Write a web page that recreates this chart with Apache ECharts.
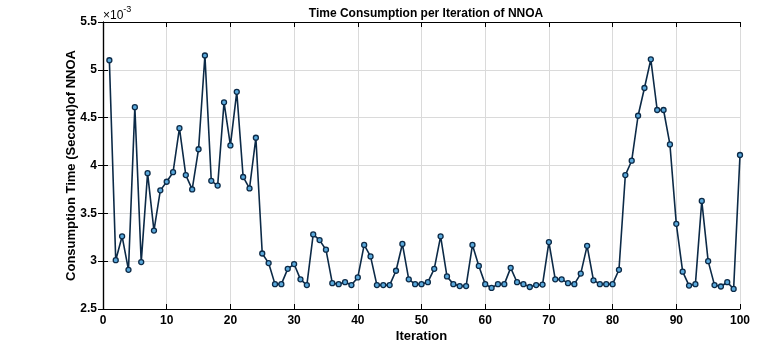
<!DOCTYPE html>
<html>
<head>
<meta charset="utf-8">
<script src="https://cdn.jsdelivr.net/npm/echarts@6/dist/echarts.min.js"></script>
<style>
html,body{margin:0;padding:0;background:#fff;}
#chart{width:784px;height:348px;}
</style>
</head>
<body>
<div id="chart"></div>
<script>
// Values are in units of 1e-3 seconds (axis shows ×10^-3)
const iterations = Array.from({length: 100}, (_, i) => i + 1);
const timeValues = [
  5.10, 3.01, 3.26, 2.91, 4.61, 2.99, 3.92, 3.32, 3.74, 3.83,
  3.93, 4.39, 3.90, 3.75, 4.17, 5.15, 3.84, 3.79, 4.66, 4.21,
  4.77, 3.88, 3.76, 4.29, 3.08, 2.98, 2.76, 2.76, 2.92, 2.97,
  2.81, 2.75, 3.28, 3.22, 3.12, 2.77, 2.76, 2.78, 2.75, 2.83,
  3.17, 3.05, 2.75, 2.75, 2.75, 2.90, 3.18, 2.81, 2.76, 2.76,
  2.78, 2.92, 3.26, 2.84, 2.76, 2.74, 2.74, 3.17, 2.95, 2.76,
  2.72, 2.76, 2.76, 2.93, 2.78, 2.76, 2.73, 2.75, 2.755, 3.20,
  2.81, 2.81, 2.77, 2.76, 2.87, 3.16, 2.80, 2.76, 2.76, 2.76,
  2.91, 3.90, 4.05, 4.52, 4.81, 5.11, 4.58, 4.58, 4.22, 3.39,
  2.89, 2.745, 2.76, 3.63, 3.00, 2.75, 2.735, 2.78, 2.71, 4.11
];
const xTicks = [0, 10, 20, 30, 40, 50, 60, 70, 80, 90, 100];
const yTicks = [2.5, 3, 3.5, 4, 4.5, 5, 5.5];

const titleText = 'Time Consumption per Iteration of NNOA';
const xName = 'Iteration';
const yName = 'Consumption Time (Second)of NNOA';

const FONT = '"Liberation Sans", Arial, sans-serif';
const TFONT = '"Liberation Sans Narrow", "Liberation Sans", Arial, sans-serif';
const seriesData = iterations.map((it, i) => [it, timeValues[i]]);

const chart = echarts.init(document.getElementById('chart'), null, {renderer: 'canvas'});
const tickStyle = {show: true, inside: true, length: 5, lineStyle: {color: '#000', width: 1}};
const lineAx = {show: true, lineStyle: {color: '#000', width: 1.2}};

chart.setOption({
  backgroundColor: '#fff',
  animation: false,
  title: {
    text: titleText,
    left: 421, top: 3, textAlign: 'center',
    textStyle: {fontFamily: TFONT, fontWeight: 'bold', fontSize: 12, color: '#000'}
  },
  grid: {left: 103, right: 44, top: 22, bottom: 33, containLabel: false},
  graphic: [{
    type: 'text', left: 103, top: 5,
    style: {
      text: '{a|×10}{b|-3}',
      rich: {
        a: {fontFamily: FONT, fontSize: 12, fill: '#000', verticalAlign: 'bottom'},
        b: {fontFamily: FONT, fontSize: 9, fill: '#000', verticalAlign: 'top', padding: [0,0,8,0]}
      }
    }
  }],
  xAxis: [{
    type: 'value', min: xTicks[0], max: xTicks[xTicks.length-1], interval: 10,
    name: xName, nameLocation: 'middle', nameGap: 21, nameMoveOverlap: false,
    nameTextStyle: {fontFamily: FONT, fontWeight: 'bold', fontSize: 13, color: '#000'},
    axisLine: lineAx, axisTick: tickStyle,
    axisLabel: {fontFamily: FONT, fontWeight: 'bold', fontSize: 12, color: '#000', margin: 6},
    splitLine: {show: true, lineStyle: {color: '#dadada', width: 1}}
  }, {
    type: 'value', position: 'top', min: 0, max: 100, interval: 10,
    axisLine: lineAx, axisTick: tickStyle, axisLabel: {show: false}, splitLine: {show: false}
  }],
  yAxis: [{
    type: 'value', min: yTicks[0], max: yTicks[yTicks.length-1], interval: 0.5,
    name: yName, nameLocation: 'middle', nameGap: 25, nameRotate: 90, nameMoveOverlap: false,
    nameTextStyle: {fontFamily: FONT, fontWeight: 'bold', fontSize: 13, color: '#000'},
    axisLine: lineAx, axisTick: tickStyle,
    axisLabel: {fontFamily: FONT, fontWeight: 'bold', fontSize: 12, color: '#000', margin: 6,
      formatter: v => String(Math.round(v * 10) / 10)},
    splitLine: {show: true, lineStyle: {color: '#dadada', width: 1}}
  }, {
    type: 'value', position: 'right', min: 2.5, max: 5.5, interval: 0.5,
    axisLine: lineAx, axisTick: tickStyle, axisLabel: {show: false}, splitLine: {show: false}
  }],
  series: [{
    type: 'line',
    data: seriesData,
    xAxisIndex: 0, yAxisIndex: 0,
    symbol: 'circle', symbolSize: 5,
    lineStyle: {color: '#0c2a47', width: 1.6},
    itemStyle: {color: '#5aa9dc', borderColor: '#0c2a47', borderWidth: 1.3},
    z: 5
  }]
});
</script>
</body>
</html>
